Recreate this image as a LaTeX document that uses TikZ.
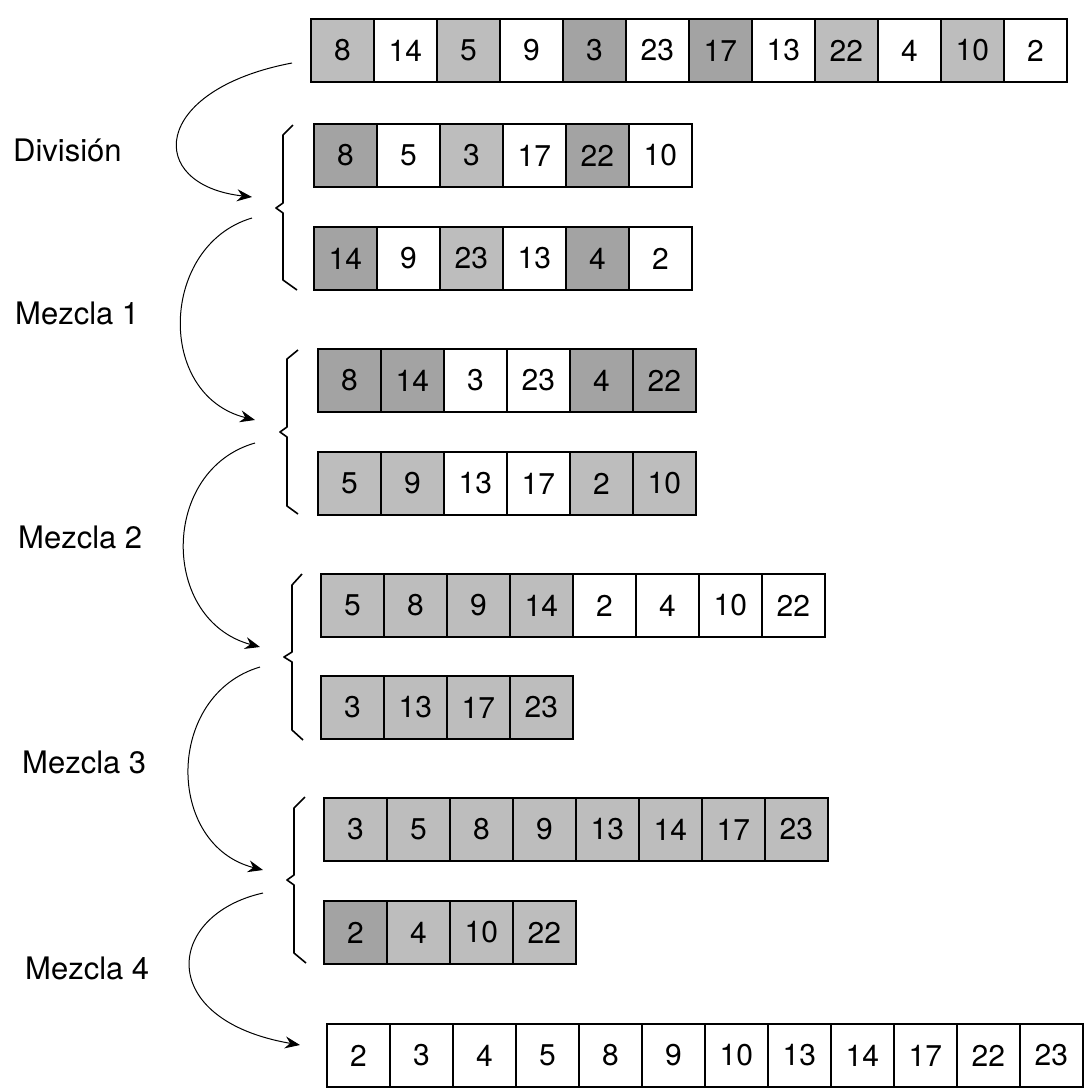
\documentclass[tikz,border=0pt]{standalone}
\usepackage{fontspec}
\setmainfont{TeX Gyre Heros}
\usetikzlibrary{arrows.meta}
\definecolor{shadeA}{gray}{0.74}
\definecolor{shadeB}{gray}{0.64}
\tikzset{
  cell/.style={draw, line width=1.8pt, minimum width=63pt, minimum height=63pt,
    inner sep=0pt, anchor=north west, font=\fontsize{30}{30}\selectfont},
  c0/.style={fill=white},
  c1/.style={fill=shadeA},
  c2/.style={fill=shadeB},
  bracket/.style={line width=1.6pt, line join=round},
  flow/.style={line width=1pt, -{Stealth[length=15pt,width=12pt,inset=5pt]}},
  lbl/.style={anchor=west, inner sep=0pt, font=\fontsize{31}{31}\selectfont}
}
% one row of numbered boxes: name, left x, top y, list of value/style pairs
\newcommand\cellrow[4]{%
  \foreach \v/\s [count=\i] in {#4}
    \node[cell,c\s] (#1-\i) at ({#2+(\i-1)*63},#3) {\v};}
\begin{document}
\begin{tikzpicture}[x=1pt,y=-1pt]
\useasboundingbox (0,0) rectangle (1085,1088);

% rows of the merge sort
\cellrow{r0}{310}{18}{8/1,14/0,5/1,9/0,3/2,23/0,17/2,13/0,22/1,4/0,10/1,2/0}
\cellrow{r1}{313}{123}{8/2,5/0,3/1,17/0,22/2,10/0}
\cellrow{r2}{313}{226}{14/2,9/0,23/1,13/0,4/2,2/0}
\cellrow{r3}{317}{348}{8/2,14/2,3/0,23/0,4/2,22/2}
\cellrow{r4}{317}{451}{5/1,9/1,13/0,17/0,2/1,10/1}
\cellrow{r5}{320}{573}{5/1,8/1,9/1,14/1,2/0,4/0,10/0,22/0}
\cellrow{r6}{320}{675}{3/1,13/1,17/1,23/1}
\cellrow{r7}{323}{797}{3/1,5/1,8/1,9/1,13/1,14/1,17/1,23/1}
\cellrow{r8}{323}{900}{2/2,4/1,10/1,22/1}
\cellrow{r9}{326}{1023}{2/0,3/0,4/0,5/0,8/0,9/0,10/0,13/0,14/0,17/0,22/0,23/0}

% brackets grouping each pair of rows, with their notch points
\coordinate (n1) at (276,208);
\coordinate (n2) at (280,432);
\coordinate (n3) at (284,657);
\coordinate (n4) at (287,880);
\draw[bracket] (293,125) -- (283,135) -- (283,203) -- (n1) -- (283,213) -- (283,280) -- (297,290);
\draw[bracket] (298,350) -- (287,359) -- (287,427) -- (n2) -- (287,437) -- (287,506) -- (298,514);
\draw[bracket] (302,574) -- (292,585) -- (292,652) -- (n3) -- (292,662) -- (292,730) -- (303,740);
\draw[bracket] (305,797) -- (294,808) -- (294,875) -- (n4) -- (294,885) -- (294,953) -- (306,963);

% stage labels
\node[lbl] (l0) at (13,150) {División};
\node[lbl] (l1) at (15,313) {Mezcla 1};
\node[lbl] (l2) at (18,537) {Mezcla 2};
\node[lbl] (l3) at (22,762) {Mezcla 3};
\node[lbl] (l4) at (25,968) {Mezcla 4};

% curved arrows between stages
\coordinate (s0) at (292,63);   \coordinate (t1) at (252,197);
\coordinate (s1) at (252,218);  \coordinate (t2) at (255,420);
\coordinate (s2) at (255,443);  \coordinate (t3) at (260,647);
\coordinate (s3) at (260,667);  \coordinate (t4) at (263,870);
\coordinate (s4) at (263,893);  \coordinate (t5) at (300,1045);
\draw[flow] (s0) .. controls (150,90) and (145,185) .. (t1);
\draw[flow] (s1) .. controls (160,245) and (155,395) .. (t2);
\draw[flow] (s2) .. controls (160,470) and (160,620) .. (t3);
\draw[flow] (s3) .. controls (165,695) and (165,845) .. (t4);
\draw[flow] (s4) .. controls (165,915) and (155,1020) .. (t5);
\end{tikzpicture}
\end{document}
